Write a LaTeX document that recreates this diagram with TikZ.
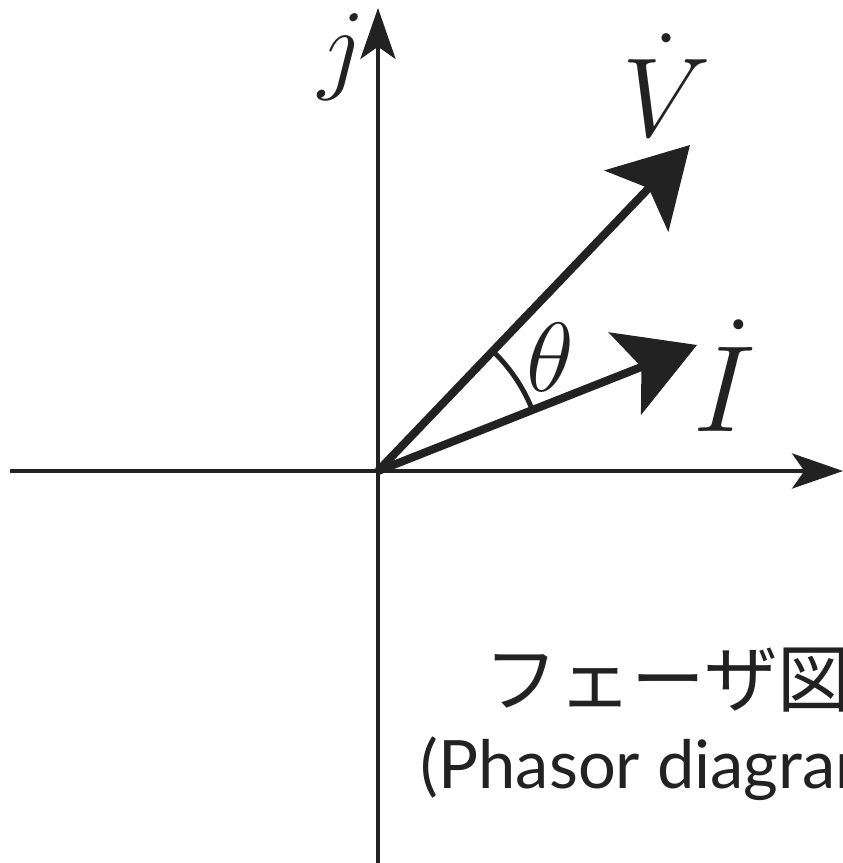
\documentclass[tikz,border=0pt]{standalone}
\usepackage{fix-cm}
\usepackage{fontspec}
\newfontfamily\jpfont{Noto Sans CJK JP}
\newfontfamily\enfont{Lato}
\usetikzlibrary{arrows.meta}
\definecolor{ink}{HTML}{222222}
\tikzset{
  axis/.style={ink, line width=1.1pt, -{Stealth[length=14.5pt, width=10pt, inset=3.5pt]}},
  phasor/.style={ink, line width=2.3pt, -{Stealth[length=22pt, width=25pt, inset=5pt]}},
  label/.style={ink, inner sep=0pt},
}

\begin{document}
\begin{tikzpicture}
  \useasboundingbox (-3.78,-3.92) rectangle (4.65,4.71);
  \clip (-3.78,-3.92) rectangle (4.65,4.71);
  \coordinate (O) at (0,0);
  \coordinate (xl) at (-3.68,0);
  \coordinate (xr) at (4.65,0);
  \coordinate (yb) at (0,-3.92);
  \coordinate (yt) at (0,4.63);
  \coordinate (Vtip) at (3.12,3.26);
  \coordinate (Itip) at (3.19,1.26);
  \draw[axis] (xl) -- (xr);
  \draw[axis] (yb) -- (yt);
  \draw[phasor] (O) -- (Vtip);
  \draw[phasor] (O) -- (Itip);
  % angle between the two phasors
  \draw[ink, line width=1.4pt] (21.5:1.66) arc[start angle=21.5, end angle=46.3, radius=1.66];
  \node[label, font=\fontsize{29}{29}\selectfont] (j) at (-0.36,4.14) {$j$};
  \node[label, font=\fontsize{32}{32}\selectfont] (V) at (2.89,3.86) {$\dot{V}$};
  \node[label, font=\fontsize{35}{35}\selectfont] (I) at (3.47,0.95) {$\dot{I}$};
  \node[label, font=\fontsize{28}{28}\selectfont] (theta) at (1.72,1.14) {$\theta$};
  \node[label, font=\jpfont\fontsize{21}{21}\selectfont] (title) at (2.90,-2.09) {フェーザ図};
  \node[label, font=\enfont\fontsize{19}{19}\selectfont] (subtitle) at (2.86,-2.98) {(Phasor diagram)};
\end{tikzpicture}
\end{document}
